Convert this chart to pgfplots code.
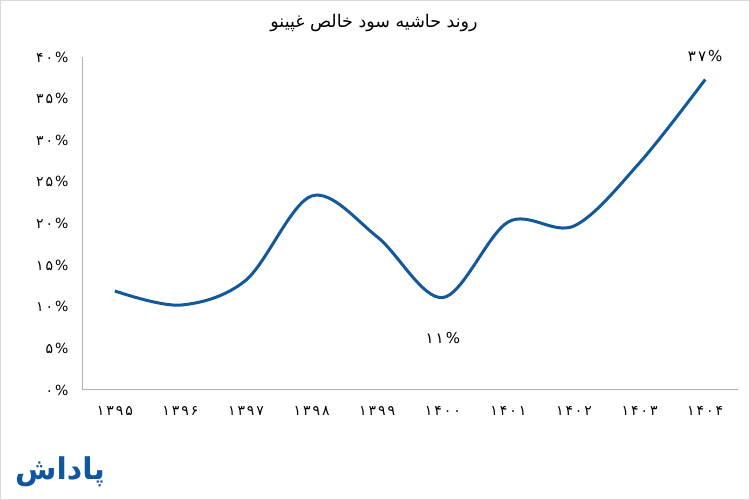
\documentclass[border=0pt]{standalone}
\usepackage{fontspec}
\usepackage{pgfplots}
\pgfplotsset{compat=1.18}
\TeXXeTstate=1
\newfontfamily\fa[Script=Arabic]{DejaVu Sans}
\newfontfamily\fanum[LetterSpace=14]{DejaVu Sans}
\definecolor{lineblue}{RGB}{18,88,155}
\definecolor{logoblue}{RGB}{16,86,160}
\begin{document}
\begin{tikzpicture}
\draw[draw=black!15, line width=1pt] (0.5pt,0.5pt) rectangle (749.5pt,499.5pt);
\useasboundingbox (0,0) rectangle (750pt,500pt);
\node[font=\fa\fontsize{17.5}{20}\selectfont] at (374pt,477pt) {\beginR روند حاشیه سود خالص غپینو\endR};
\node[font=\fa\bfseries\fontsize{30}{34}\selectfont, text=logoblue] at (60pt,28pt) {\beginR پاداش\endR};
\begin{axis}[
  at={(82pt,110pt)}, anchor=south west, scale only axis,
  width=656pt, height=333pt,
  xmin=-0.5, xmax=9.5, ymin=0, ymax=40,
  axis lines=left, axis line style={-, draw=black!30, line width=1pt},
  xtick={0,1,2,3,4,5,6,7,8,9},
  xticklabels={۱۳۹۵,۱۳۹۶,۱۳۹۷,۱۳۹۸,۱۳۹۹,۱۴۰۰,۱۴۰۱,۱۴۰۲,۱۴۰۳,۱۴۰۴},
  ytick={0,5,10,15,20,25,30,35,40},
  yticklabels={۰\%,۵\%,۱۰\%,۱۵\%,۲۰\%,۲۵\%,۳۰\%,۳۵\%,۴۰\%},
  major tick length=0pt,
  xticklabel style={font=\fanum\fontsize{14}{16}\selectfont, yshift=-13pt},
  yticklabel style={font=\fanum\fontsize{14}{16}\selectfont, xshift=-10pt},
  clip=false,
]
\addplot[lineblue, line width=3pt, smooth, tension=0.55] coordinates {
  (0,11.9) (1,10.2) (2,13.2) (3,23.3) (4,18.4) (5,11.1) (6,20.2) (7,19.7) (8,27.3) (9,37.3)
};
\node[font=\fanum\fontsize{15}{17}\selectfont] at (axis cs:9,37.3) [yshift=23pt] {۳۷\%};
\node[font=\fanum\fontsize{15}{17}\selectfont] at (axis cs:5,11.1) [yshift=-40pt] {۱۱\%};
\end{axis}
\end{tikzpicture}
\end{document}
